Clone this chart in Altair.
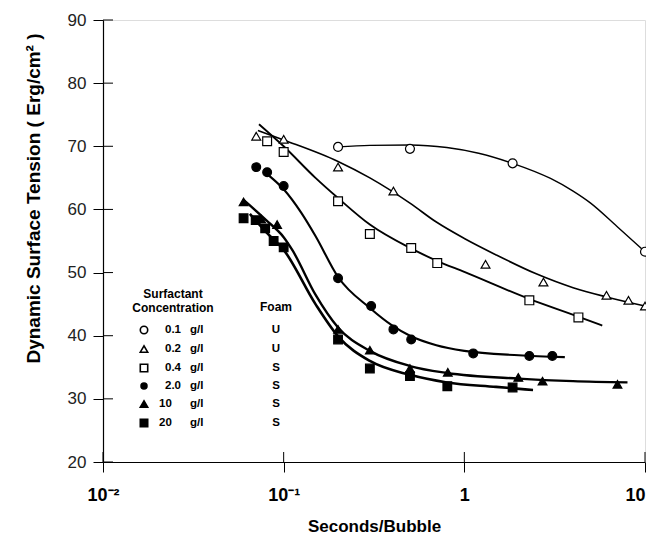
import altair as alt
import pandas as pd

# ---------------- data ----------------
series_names = ["0.1 g/l", "0.2 g/l", "0.4 g/l", "2.0 g/l", "10 g/l", "20 g/l"]

# measured points
p01_x = [0.2, 0.5, 1.85, 10.0]
p01_y = [69.9, 69.6, 67.3, 53.3]
p02_x = [0.0705, 0.1, 0.2, 0.405, 1.31, 2.74, 6.12, 8.1, 10.0]
p02_y = [71.6, 71.1, 66.7, 62.9, 51.3, 48.5, 46.4, 45.6, 44.7]
p04_x = [0.081, 0.1, 0.2, 0.3, 0.508, 0.708, 2.29, 4.28]
p04_y = [70.8, 69.1, 61.3, 56.1, 53.9, 51.5, 45.6, 42.9]
p2_x = [0.0705, 0.081, 0.1, 0.2, 0.305, 0.405, 0.508, 1.12, 2.29, 3.07]
p2_y = [66.7, 65.9, 63.7, 49.1, 44.7, 41.0, 39.4, 37.2, 36.8, 36.8]
p10_x = [0.06, 0.075, 0.092, 0.2, 0.3, 0.5, 0.81, 1.99, 2.71, 7.04]
p10_y = [61.2, 58.5, 57.6, 41.0, 37.7, 34.8, 34.2, 33.4, 32.8, 32.3]
p20_x = [0.06, 0.07, 0.079, 0.088, 0.1, 0.2, 0.3, 0.5, 0.805, 1.85]
p20_y = [58.6, 58.3, 57.0, 55.0, 54.0, 39.4, 34.8, 33.6, 32.0, 31.8]

# fitted curves
f01_x = [0.2, 0.3, 0.5, 0.8, 1.2, 1.85, 3.0, 4.0, 5.0, 7.0, 10.0]
f01_y = [69.9, 70.15, 70.2, 69.8, 68.9, 67.3, 64.9, 62.9, 61.0, 57.3, 53.3]
f02_x = [0.072, 0.1, 0.2, 0.3, 0.5, 0.7, 1.0, 1.5, 2.5, 4.0, 6.2, 10.0]
f02_y = [72.5, 71.0, 67.6, 65.0, 61.0, 58.0, 55.4, 52.8, 49.8, 47.6, 46.1, 44.7]
f04_x = [0.073, 0.1, 0.15, 0.2, 0.3, 0.5, 0.7, 1.0, 2.3, 4.3, 5.8]
f04_y = [73.5, 70.0, 65.0, 61.8, 57.6, 53.9, 51.9, 50.1, 45.8, 43.0, 41.6]
f2_x = [0.081, 0.1, 0.125, 0.15, 0.2, 0.3, 0.4, 0.5, 0.7, 1.0, 2.0, 3.6]
f2_y = [65.6, 63.2, 59.5, 55.8, 49.3, 44.4, 41.6, 40.0, 38.5, 37.6, 36.9, 36.6]
f10_x = [0.06, 0.08, 0.1, 0.112, 0.15, 0.2, 0.3, 0.5, 0.8, 2.0, 4.0, 8.0]
f10_y = [61.5, 58.3, 55.6, 53.5, 46.5, 41.3, 37.6, 35.2, 34.1, 33.2, 32.8, 32.6]
f20_x = [0.065, 0.08, 0.1, 0.15, 0.2, 0.3, 0.5, 0.8, 1.5, 2.4]
f20_y = [59.3, 56.4, 53.6, 45.0, 39.9, 36.0, 33.8, 32.6, 31.9, 31.4]

legend_conc = ["0.1", "0.2", "0.4", "2.0", "10", "20"]
legend_foam = ["U", "U", "S", "S", "S", "S"]

x_ticks = [0.01, 0.1, 1, 10]
y_ticks = [20, 30, 40, 50, 60, 70, 80, 90]

# ---------------- build tables ----------------
pts = [(p01_x, p01_y), (p02_x, p02_y), (p04_x, p04_y), (p2_x, p2_y), (p10_x, p10_y), (p20_x, p20_y)]
fits = [(f01_x, f01_y), (f02_x, f02_y), (f04_x, f04_y), (f2_x, f2_y), (f10_x, f10_y), (f20_x, f20_y)]

pt_rows, fit_rows = [], []
for name, (xs, ys) in zip(series_names, pts):
    for a, b in zip(xs, ys):
        pt_rows.append({"series": name, "x": a, "y": b})
for name, (xs, ys) in zip(series_names, fits):
    for a, b in zip(xs, ys):
        fit_rows.append({"series": name, "x": a, "y": b})
pt_df = pd.DataFrame(pt_rows)
fit_df = pd.DataFrame(fit_rows)

shapes = ["circle", "triangle-up", "square", "circle", "triangle-up", "square"]
fills = ["white", "white", "white", "black", "black", "black"]
sizes = [80, 75, 80, 95, 80, 85]
widths = [1.4, 2.6, 1.5, 2.6, 2.0, 1.8]

FONT = "Liberation Sans"

x_axis = alt.Axis(
    values=x_ticks,
    labelExpr="datum.value == 0.01 ? '10⁻²' : datum.value == 0.1 ? '10⁻¹' : datum.value == 1 ? '1' : '10'",
    labelAlign={"condition": {"test": "datum.value == 10", "value": "right"}, "value": "center"},
    grid=False, tickSize=10, tickColor="black", domainColor="black", domainWidth=1.2,
    labelFont=FONT, labelFontSize=18, labelFontWeight="bold", labelColor="black",
    labelPadding=14, labelFlush=False, labelOverlap=False,
    title="Seconds/Bubble", titleFont=FONT, titleFontSize=17, titleFontWeight="bold",
    titleColor="black", titleBaseline="middle", titleY=64,
)
y_axis = alt.Axis(
    values=y_ticks, grid=False, tickSize=10, tickColor="black", domainColor="black",
    domainWidth=1.2, labelFont=FONT, labelFontSize=17, labelFontWeight="normal",
    labelColor="#222", labelPadding=7,
    title="Dynamic Surface Tension  ( Erg/cm² )", titleFont=FONT, titleFontSize=19,
    titleFontWeight="bold", titleColor="black", titleX=-70, titleY=178,
    titleAnchor="middle", titleBaseline="middle",
)
X = alt.X("x:Q", scale=alt.Scale(type="log", domain=[0.01, 10]), axis=x_axis)
Y = alt.Y("y:Q", scale=alt.Scale(domain=[20, 90]), axis=y_axis)

lines = alt.Chart(fit_df).mark_line(interpolate="monotone", color="black").encode(
    x=X, y=Y, detail="series:N",
    strokeWidth=alt.StrokeWidth("series:N", scale=alt.Scale(domain=series_names, range=widths), legend=None),
)
points = alt.Chart(pt_df).mark_point(filled=True, stroke="black", strokeWidth=1.2, opacity=1).encode(
    x=X, y=Y,
    shape=alt.Shape("series:N", scale=alt.Scale(domain=series_names, range=shapes), legend=None),
    fill=alt.Fill("series:N", scale=alt.Scale(domain=series_names, range=fills), legend=None),
    size=alt.Size("series:N", scale=alt.Scale(domain=series_names, range=sizes), legend=None),
)

# inner halves of the crossing ticks
y_in = alt.Chart(pd.DataFrame({"y": y_ticks})).mark_rule(color="black", strokeWidth=1).encode(
    y=Y, x=alt.value(0), x2=alt.value(10))
x_in = alt.Chart(pd.DataFrame({"x": x_ticks})).mark_rule(color="black", strokeWidth=1).encode(
    x=X, y=alt.value(432), y2=alt.value(442))

# ---------------- in-plot legend ----------------
one = pd.DataFrame({"a": [0]})
leg_layers = []
def txt(s, px, py, align="left", size=11.5):
    return alt.Chart(one).mark_text(text=s, align=align, baseline="middle", font=FONT,
                                    fontSize=size, fontWeight="bold", color="black").encode(
        x=alt.value(px), y=alt.value(py))

leg_layers.append(txt("Surfactant", 70, 274, "center", 12))
leg_layers.append(txt("Concentration", 70, 288, "center", 12))
leg_layers.append(txt("Foam", 173, 287, "center", 12))
row_y = [310, 329, 348, 366, 384, 403]
for i in range(6):
    py = row_y[i]
    leg_layers.append(alt.Chart(one).mark_point(
        shape=shapes[i], filled=True, fill=fills[i], stroke="black", strokeWidth=1.6,
        size=55 if i != 3 else 35, opacity=1).encode(x=alt.value(41), y=alt.value(py)))
    nx = 62 if "." in legend_conc[i] else 56
    leg_layers.append(txt(legend_conc[i], nx, py))
    leg_layers.append(txt("g/l", 87, py))
    leg_layers.append(txt(legend_foam[i], 173, py, "center"))

chart = alt.layer(lines, points, y_in, x_in, *leg_layers).properties(
    width=542, height=442,
    autosize=alt.AutoSizeParams(type="none"),
    padding={"left": 95, "top": 12, "right": 1, "bottom": 76},
).configure_view(stroke="#222", strokeWidth=1.1).configure(background="white")

chart.save("out.html", embed_options={"renderer": "svg", "actions": False})
